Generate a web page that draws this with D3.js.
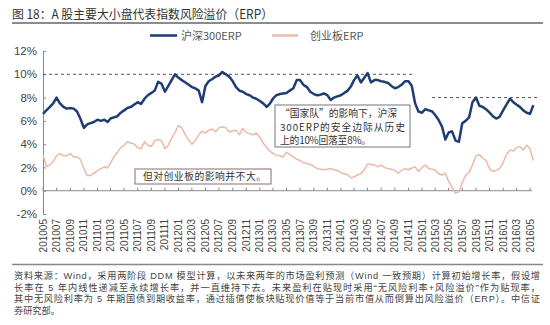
<!DOCTYPE html>
<html><head><meta charset="utf-8">
<script src="https://cdn.jsdelivr.net/npm/d3@7"></script>
<style>body{margin:0;background:#fff}</style>
</head><body>
<svg id="c" width="550" height="325"></svg>
<script>
const title = "图 18：A 股主要大小盘代表指数风险溢价（ERP）";
const seriesNames = ["沪深300ERP", "创业板ERP"];
const seriesColors = ["#1f3d73", "#ebb9a5"];
const tickLabels = ["201005","201007","201009","201011","201101","201103","201105","201107","201109","201111",
  "201201","201203","201205","201207","201209","201211","201301","201303","201305","201307","201309","201311",
  "201401","201403","201405","201407","201409","201411","201501","201503","201505","201507","201509","201511",
  "201601","201603","201605"];
const yTicks = [-2, 0, 2, 4, 6, 8, 10, 12];
// half-monthly readings starting 2010-05-01
const hs300 = [6.6,6.9,7.2,7.5,8.0,7.5,7.2,7.05,7.1,7.05,6.8,6.2,5.4,5.7,5.8,5.9,6.1,6.0,6.1,5.9,
  6.2,6.3,6.4,6.7,6.9,7.1,7.2,7.4,7.6,7.45,7.9,8.2,8.4,8.6,9.35,9.2,8.5,9.0,9.5,10.0,
  9.7,9.5,9.3,9.1,8.9,8.8,8.6,7.6,9.0,9.4,9.6,9.8,9.9,10.2,10.0,9.8,9.4,8.9,8.6,8.5,
  8.3,8.2,8.0,7.9,7.7,7.5,7.2,7.5,7.9,8.2,8.3,8.35,8.4,8.6,8.8,9.5,9.5,9.1,8.9,8.5,
  8.3,8.2,8.25,8.35,8.2,7.8,8.0,8.1,8.2,8.4,8.6,9.0,9.5,9.9,9.3,9.7,10.1,9.3,9.5,9.5,
  9.4,9.35,9.25,9.0,8.8,8.9,9.1,9.4,9.4,9.0,7.5,6.8,6.7,7.0,6.9,6.8,6.5,6.1,5.5,4.4,
  5.0,5.1,4.3,4.2,5.8,6.0,6.3,7.6,8.0,7.3,7.2,7.0,6.7,6.4,6.2,6.35,6.9,7.4,7.9,7.6,
  7.4,7.2,6.9,6.7,6.6,7.35];
const cyb = [3.1,2.1,2.2,2.5,3.0,3.2,3.0,3.0,3.2,2.9,2.9,2.7,1.9,1.3,1.3,1.5,1.7,1.9,2.05,1.95,
  2.4,2.9,3.3,3.7,3.9,4.2,4.1,4.0,3.7,3.6,4.2,3.9,3.8,4.3,4.4,4.3,3.6,3.9,4.5,5.0,
  5.6,5.4,4.8,4.35,4.0,4.3,4.8,5.1,4.95,5.2,5.3,5.05,5.4,5.5,5.4,5.05,5.15,5.2,4.8,5.35,
  5.0,4.9,4.8,4.95,4.6,4.1,3.7,3.4,3.2,3.05,3.0,2.9,3.3,3.1,2.9,2.7,2.6,2.4,2.35,2.25,
  2.1,1.9,1.85,1.8,1.85,1.9,1.8,1.75,1.55,1.45,1.35,1.1,1.2,1.35,1.45,1.8,2.3,2.25,2.2,2.05,
  2.2,2.0,1.9,1.85,1.75,1.5,1.75,1.9,1.8,1.95,2.05,1.65,2.0,2.2,1.9,1.85,1.8,1.45,1.35,1.5,
  0.8,0.3,-0.2,-0.1,0.7,1.3,1.6,2.2,3.0,3.1,2.8,2.6,1.9,1.65,1.75,1.9,2.4,3.1,3.5,3.4,
  3.7,3.8,3.5,3.9,3.6,2.6];
const refLines = [
  {value: 10, from: "2010-05-01", to: "2014-11-22"},
  {value: 8, from: "2015-02-15", to: "2016-06-15"}
];
const note1 = "但对创业板的影响并不大。";
const note2 = ["“国家队”的影响下，沪深", "300ERP的安全边际从历史", "上的10%回落至8%。"];
const footnote = [
  "资料来源：Wind，采用两阶段 DDM 模型计算，以未来两年的市场盈利预测（Wind 一致预期）计算初始增长率，假设增",
  "长率在 5 年内线性递减至永续增长率，并一直维持下去。未来盈利在贴现时采用“无风险利率+风险溢价”作为贴现率，",
  "其中无风险利率为 5 年期国债到期收益率，通过插值使板块贴现价值等于当前市值从而倒算出风险溢价（ERP）。中信证",
  "券研究部。"
];

const svg = d3.select("#c");
const cjk = "'Noto Sans CJK SC', 'Noto Sans', sans-serif";
const lat = "'Liberation Sans', Arial, sans-serif";
const mixed = "'Liberation Sans', 'Noto Sans CJK SC', sans-serif";
const parse = d3.timeParse("%Y-%m-%d");
const dates = hs300.map((_, i) => new Date(2010, 4 + Math.floor(i / 2), i % 2 ? 16 : 1));

const x = d3.scaleTime().domain([new Date(2010, 4, 1), new Date(2016, 4, 1)]).range([43, 530]);
const y = d3.scaleLinear().domain([-2, 12]).range([214, 51]);

// title
svg.append("text").attr("x", 12).attr("y", 19).attr("font-family", cjk).attr("font-size", 12.5)
  .attr("fill", "#333").attr("textLength", 261).attr("lengthAdjust", "spacingAndGlyphs").text(title);
svg.append("line").attr("x1", 12).attr("x2", 543).attr("y1", 23).attr("y2", 23)
  .attr("stroke", "#666").attr("stroke-width", 1.5);

// legend
const legend = [{x1: 150, x2: 177, tx: 181}, {x1: 272, x2: 298, tx: 310}];
legend.forEach((l, i) => {
  svg.append("line").attr("x1", l.x1).attr("x2", l.x2).attr("y1", 35.5).attr("y2", 35.5)
    .attr("stroke", seriesColors[i]).attr("stroke-width", 2.5);
  svg.append("text").attr("x", l.tx).attr("y", 39.5).attr("font-family", cjk).attr("font-size", 11)
    .attr("fill", "#555").text(seriesNames[i]);
});

// y axis
const yAxis = d3.axisLeft(y).tickValues(yTicks).tickSize(-3).tickPadding(6).tickFormat(d => d + "%");
const ya = svg.append("g").attr("transform", "translate(43,0)").call(yAxis);
ya.select(".domain").attr("stroke", "#888");
ya.selectAll(".tick line").attr("stroke", "#888");
ya.selectAll(".tick text").attr("font-family", lat).attr("font-size", 11.5).attr("fill", "#444");

// x axis at 0%
const tickDates = tickLabels.map(s => new Date(+s.slice(0, 4), +s.slice(4) - 1, 1));
svg.append("line").attr("x1", 43).attr("x2", 532).attr("y1", y(0)).attr("y2", y(0))
  .attr("stroke", "#888").attr("stroke-width", 1);
svg.selectAll(".xt").data(tickDates).join("line").attr("class", "xt")
  .attr("x1", d => x(d)).attr("x2", d => x(d)).attr("y1", y(0) - 3).attr("y2", y(0))
  .attr("stroke", "#888");
svg.selectAll(".xl").data(tickLabels).join("text").attr("class", "xl")
  .attr("transform", (d, i) => `translate(${x(tickDates[i])},219) rotate(-90)`)
  .attr("text-anchor", "end").attr("dy", "0.35em")
  .attr("font-family", lat).attr("font-size", 10).attr("fill", "#444").text(d => d);

// reference dashed lines
svg.selectAll(".ref").data(refLines).join("line").attr("class", "ref")
  .attr("x1", d => x(parse(d.from))).attr("x2", d => x(parse(d.to)))
  .attr("y1", d => y(d.value)).attr("y2", d => y(d.value))
  .attr("stroke", "#555").attr("stroke-dasharray", "3,3").attr("stroke-width", 1);

// series
const line = d3.line().x((d, i) => x(dates[i])).y(d => y(d));
svg.append("path").datum(cyb).attr("d", line).attr("fill", "none")
  .attr("stroke", seriesColors[1]).attr("stroke-width", 1.5).attr("stroke-linejoin", "round");
svg.append("path").datum(hs300).attr("d", line).attr("fill", "none")
  .attr("stroke", seriesColors[0]).attr("stroke-width", 2.5).attr("stroke-linejoin", "round");

// annotation boxes
svg.append("rect").attr("x", 135).attr("y", 169).attr("width", 136).attr("height", 15)
  .attr("fill", "#fff").attr("stroke", "#8c6a6a").attr("stroke-width", 1);
svg.append("text").attr("x", 143).attr("y", 180.3).attr("font-family", cjk).attr("font-size", 9.8)
  .attr("fill", "#333").attr("textLength", 123).attr("lengthAdjust", "spacing").text(note1);

svg.append("rect").attr("x", 275).attr("y", 105).attr("width", 135).attr("height", 42)
  .attr("fill", "#fff").attr("stroke", "#777").attr("stroke-width", 1);
const n2w = [117, 125, 91];
note2.forEach((t, i) => {
  svg.append("text").attr("x", 280).attr("y", 117.3 + i * 13.3).attr("font-family", cjk)
    .attr("font-size", 9.8).attr("fill", "#333").attr("textLength", n2w[i])
    .attr("lengthAdjust", "spacing").text(t);
});

// bottom rule and footnote
svg.append("line").attr("x1", 12).attr("x2", 543).attr("y1", 264.5).attr("y2", 264.5)
  .attr("stroke", "#888").attr("stroke-width", 1.5);
footnote.forEach((t, i) => {
  const tx = svg.append("text").attr("x", 14).attr("y", 279 + i * 11.7).attr("font-family", mixed)
    .attr("font-size", 9.2).attr("fill", "#444").text(t);
  if (i < 3) tx.attr("textLength", 526).attr("lengthAdjust", "spacing");
});
</script>
</body></html>
